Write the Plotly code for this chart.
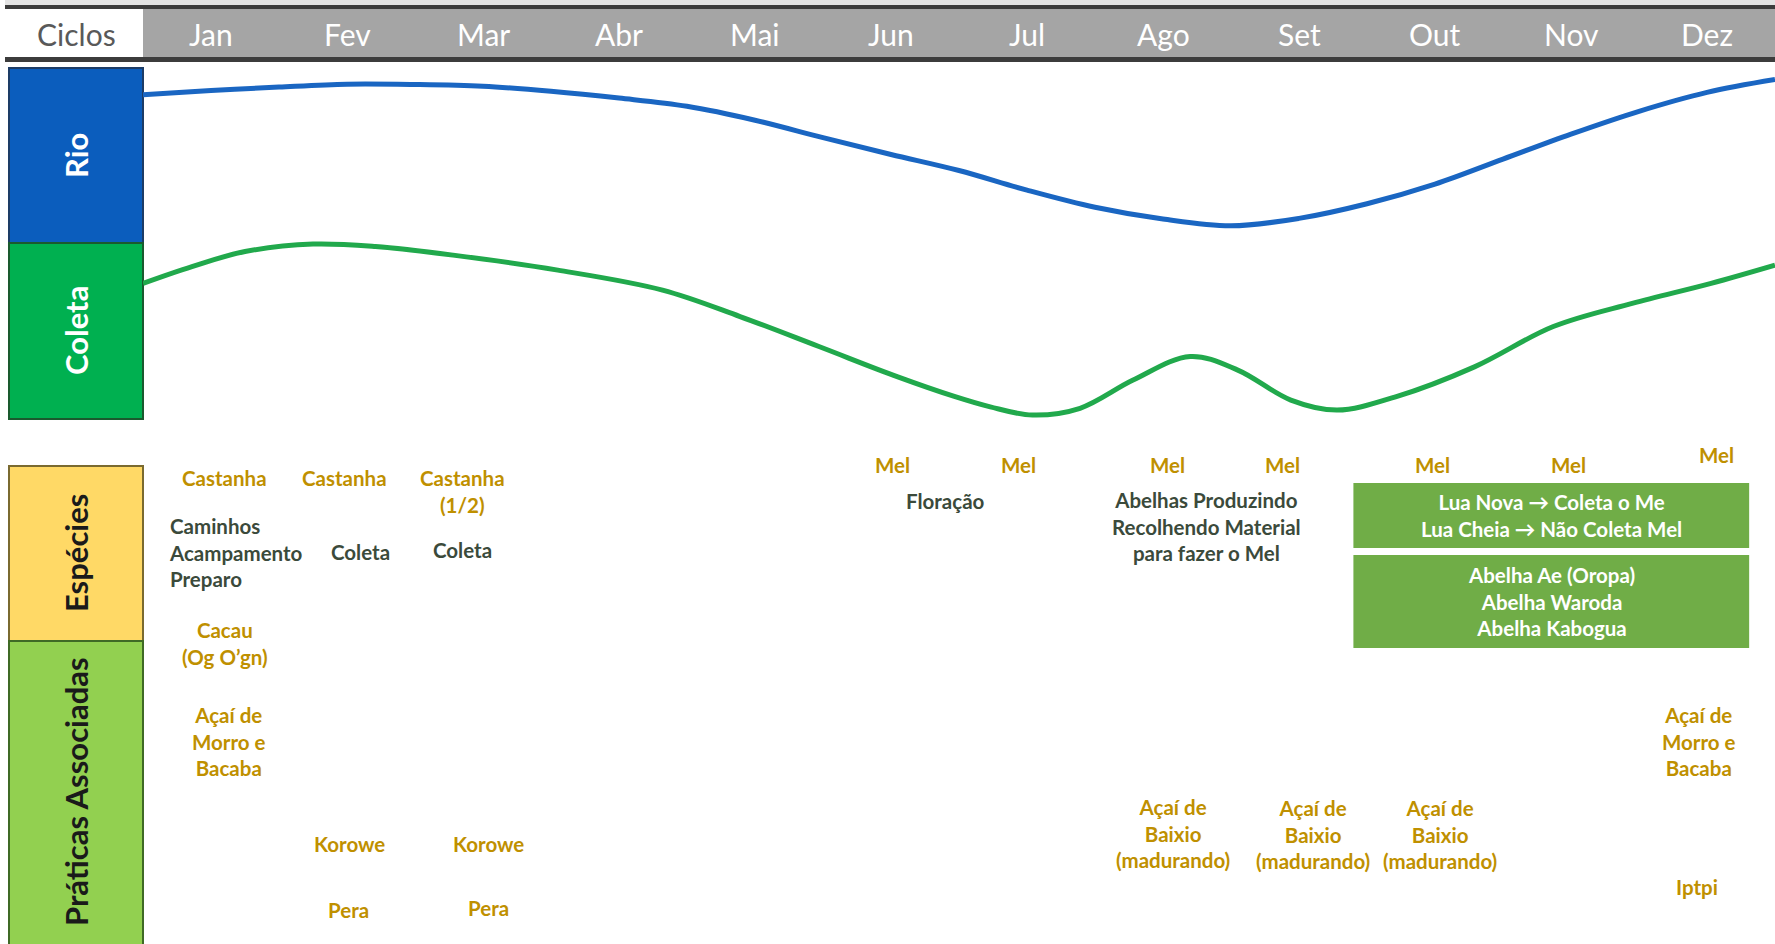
import plotly.graph_objects as go

W, H = 1775, 944

# ---------------- data ----------------
months = ["Jan", "Fev", "Mar", "Abr", "Mai", "Jun", "Jul", "Ago", "Set", "Out", "Nov", "Dez"]
month_pos = list(range(1, 13))

# river level (relative, 0-100)
rio_x = [0.5, 1.0, 1.5, 2.0, 2.5, 3.0, 3.5, 4.0, 4.5, 5.0, 5.5, 6.0, 6.5,
         7.0, 7.5, 8.0, 8.5, 9.0, 9.5, 10.0, 10.5, 11.0, 11.5, 12.0, 12.5]
rio_level = [90.8, 92.0, 93.0, 93.8, 93.7, 93.2, 91.8, 89.9, 87.6, 83.7, 78.8, 74.1, 69.6,
             64.1, 59.3, 56.0, 54.1, 56.2, 60.3, 65.8, 72.8, 79.8, 86.2, 91.5, 95.1]

# collection intensity (relative, 0-100)
coleta_x = [0.5, 0.86, 1.25, 1.75, 2.21, 2.78, 3.55, 4.32, 4.89, 5.47, 6.05, 6.46, 6.73,
            7.04, 7.39, 7.78, 8.20, 8.55, 8.94, 9.28, 9.71, 10.29, 10.87, 11.45, 12.03, 12.5]
coleta_level = [38.0, 42.7, 46.9, 49.0, 48.3, 45.9, 41.7, 36.1, 28.7, 20.3, 11.8, 6.4, 3.4,
                1.1, 3.0, 10.9, 17.5, 13.7, 5.3, 2.5, 6.2, 14.6, 25.9, 32.4, 38.0, 43.1]

row_labels = ["Rio", "Coleta", "Espécies", "Práticas Associadas"]

gold_text = ["Castanha", "Castanha", "Castanha<br>(1/2)", "Cacau<br>(Og O’gn)",
             "Mel", "Mel", "Mel", "Mel", "Mel", "Mel", "Mel",
             "Açaí de<br>Morro e<br>Bacaba", "Korowe", "Korowe", "Pera", "Pera",
             "Açaí de<br>Baixio<br>(madurando)", "Açaí de<br>Baixio<br>(madurando)",
             "Açaí de<br>Baixio<br>(madurando)", "Açaí de<br>Morro e<br>Bacaba", "Iptpi"]
gold_month = [1.10, 1.98, 2.85, 1.10,
              6.01, 6.94, 8.03, 8.88, 9.98, 10.98, 12.07,
              1.13, 2.02, 3.04, 2.01, 3.04,
              8.07, 9.10, 10.04, 11.94, 11.93]

dark_text = ["Caminhos<br>Acampamento<br>Preparo", "Coleta", "Coleta", "Floração",
             "Abelhas Produzindo<br>Recolhendo Material<br>para fazer o Mel"]
dark_month = [0.675, 2.10, 2.85, 6.40, 8.32]

box_text = ["Lua Nova → Coleta o Me<br>Lua Cheia → Não Coleta Mel",
            "Abelha Ae (Oropa)<br>Abelha Waroda<br>Abelha Kabogua"]
box_month_span = [9.40, 12.31]

# ---------------- layout positions (pixel rows) ----------------
gold_row = [478, 478, 491, 643, 465, 465, 465, 465, 465, 465, 455,
            741, 844, 844, 910, 908, 833, 834, 834, 741, 887]
dark_row = [552, 552, 550, 501, 526]
box_top = [483, 555]
box_bot = [548, 648]
row_top = [68, 243, 466, 641]
row_bot = [243, 419, 641, 950]
row_center = [156, 331, 553, 792]
row_fill = ["#0b5dbd", "#00b050", "#ffd966", "#92d050"]
row_line = ["#1d3c66", "#1a5a2e", "#7a6a30", "#3f6a25"]
row_font = ["white", "white", "#1a1a1a", "#1a1a1a"]

GOLD = "#bf9000"
DARK = "#3b4a3b"
BODY_FONT = "Lato, 'Open Sans', sans-serif"
HEAD_FONT = "'Liberation Sans Narrow', 'Arial Narrow', Lato, sans-serif"
BODY_SIZE = 20.5

X0 = 143  # left edge of month grid in px


def px(x):
    return x / W


fig = go.Figure()

fig.add_trace(go.Scatter(x=rio_x, y=rio_level, mode="lines",
                         line=dict(color="#1a66c2", width=5, shape="spline", smoothing=1.0),
                         hoverinfo="skip", showlegend=False))
fig.add_trace(go.Scatter(x=coleta_x, y=coleta_level, mode="lines",
                         line=dict(color="#21a94c", width=5, shape="spline", smoothing=1.0),
                         hoverinfo="skip", showlegend=False))
# anchor trace for pixel-row axis
fig.add_trace(go.Scatter(x=[None], y=[None], yaxis="y2", showlegend=False, hoverinfo="skip"))

shapes = []
# header
shapes.append(dict(type="rect", xref="paper", yref="y2", x0=px(5), x1=1, y0=0, y1=5,
                   fillcolor="#e4e4e4", line_width=0, layer="below"))
shapes.append(dict(type="rect", xref="paper", yref="y2", x0=px(X0), x1=1, y0=9, y1=57,
                   fillcolor="#a5a5a5", line_width=0, layer="below"))
shapes.append(dict(type="rect", xref="paper", yref="y2", x0=px(5), x1=1, y0=5, y1=9,
                   fillcolor="#3c3c3c", line_width=0))
shapes.append(dict(type="rect", xref="paper", yref="y2", x0=px(5), x1=1, y0=57, y1=62,
                   fillcolor="#3c3c3c", line_width=0))
# left category boxes
for t, b, f, lc in zip(row_top, row_bot, row_fill, row_line):
    shapes.append(dict(type="rect", xref="paper", yref="y2", x0=px(9), x1=px(X0), y0=t, y1=b,
                       fillcolor=f, line=dict(color=lc, width=2), layer="below"))
# green info boxes
for t, b in zip(box_top, box_bot):
    shapes.append(dict(type="rect", xref="x", yref="y2", x0=box_month_span[0], x1=box_month_span[1],
                       y0=t, y1=b, fillcolor="#70ad47", line_width=0, layer="below"))

ann = []
# header labels
ann.append(dict(text="Ciclos", xref="paper", yref="y2", x=px(76), y=34, showarrow=False,
                xanchor="center", yanchor="middle",
                font=dict(family=HEAD_FONT, size=30, color="#595959")))
for m, p in zip(months, month_pos):
    ann.append(dict(text=m, xref="x", yref="y2", x=p, y=34, showarrow=False,
                    xanchor="center", yanchor="middle",
                    font=dict(family=HEAD_FONT, size=30, color="white")))
# row labels (vertical)
for lab, yc, fc in zip(row_labels, row_center, row_font):
    ann.append(dict(text="<b>%s</b>" % lab, xref="paper", yref="y2", x=px(76), y=yc,
                    textangle=-90, showarrow=False, xanchor="center", yanchor="middle",
                    font=dict(family=BODY_FONT, size=31, color=fc)))
# gold labels
for t, m, r in zip(gold_text, gold_month, gold_row):
    ann.append(dict(text="<b>%s</b>" % t, xref="x", yref="y2", x=m, y=r, showarrow=False,
                    xanchor="center", yanchor="middle", align="center",
                    font=dict(family=BODY_FONT, size=BODY_SIZE, color=GOLD)))
# dark labels
for i, (t, m, r) in enumerate(zip(dark_text, dark_month, dark_row)):
    ann.append(dict(text="<b>%s</b>" % t, xref="x", yref="y2", x=m, y=r, showarrow=False,
                    xanchor="left" if i == 0 else "center", yanchor="middle",
                    align="left" if i == 0 else "center",
                    font=dict(family=BODY_FONT, size=BODY_SIZE, color=DARK)))
# box labels
bx = (box_month_span[0] + box_month_span[1]) / 2
for t, tp, bt in zip(box_text, box_top, box_bot):
    ann.append(dict(text="<b>%s</b>" % t, xref="x", yref="y2", x=bx, y=(tp + bt) / 2,
                    showarrow=False, align="center", xanchor="center", yanchor="middle",
                    font=dict(family=BODY_FONT, size=BODY_SIZE, color="white")))

fig.update_layout(
    width=W, height=H, autosize=False,
    margin=dict(l=0, r=0, t=0, b=0),
    paper_bgcolor="white", plot_bgcolor="rgba(0,0,0,0)",
    xaxis=dict(domain=[px(X0), 1], range=[0.5, 12.5], visible=False, fixedrange=True),
    yaxis=dict(domain=[1 - 419 / H, 1 - 62 / H], range=[0, 100], visible=False, fixedrange=True),
    yaxis2=dict(domain=[0, 1], range=[H, 0], visible=False, anchor="x", fixedrange=True),
    shapes=shapes, annotations=ann, showlegend=False,
)

fig.write_html("out.html", config={"displayModeBar": False},
               post_script="document.body.style.margin='0';document.body.style.overflow='hidden';")
